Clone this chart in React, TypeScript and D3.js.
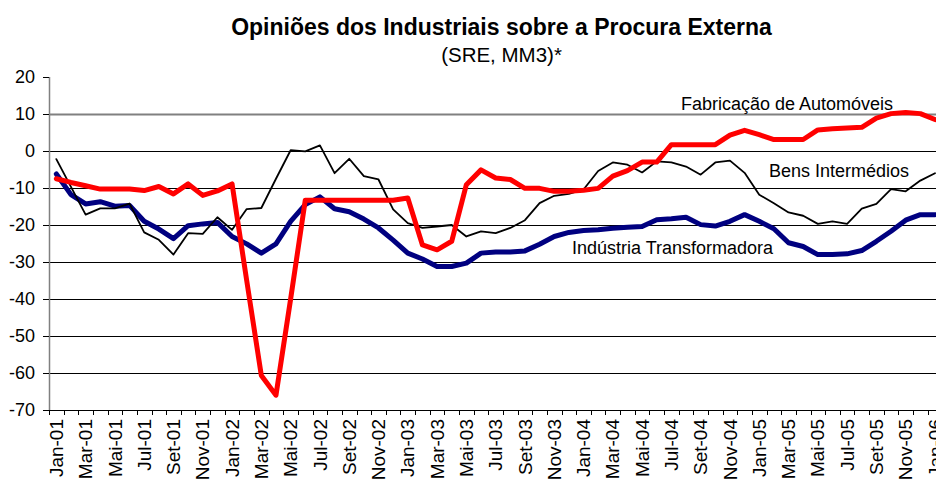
import React from "react";
import * as d3 from "d3";

const MONTHS = ["Jan", "Fev", "Mar", "Abr", "Mai", "Jun", "Jul", "Ago", "Set", "Out", "Nov", "Dez"];
const YEARS = ["01", "02", "03", "04", "05", "06"];
const CATEGORIES: string[] = [];
YEARS.forEach((y, yi) => {
  MONTHS.forEach((m, mi) => {
    if (yi < 5 || mi === 0) CATEGORIES.push(`${m}-${y}`);
  });
});

const INDUSTRIA = [
  -6.2, -11.8, -14.3, -13.7, -14.9, -14.7, -19, -21.1, -23.7, -20.2, -19.7, -19.3,
  -23.1, -25.1, -27.6, -25.1, -19, -14.5, -12.4, -15.6, -16.4, -18.4, -20.8, -24.1,
  -27.6, -29.2, -31.2, -31.2, -30.3, -27.6, -27.3, -27.3, -27, -25.2, -23.1, -22,
  -21.5, -21.3, -20.9, -20.6, -20.4, -18.6, -18.3, -17.9, -19.9, -20.3, -19, -17.2,
  -19, -21, -24.8, -25.8, -28, -28, -27.8, -26.9, -24.4, -21.7, -18.7, -17.2,
  -17.2,
];

const BENS = [
  -2.2, -9.7, -17.2, -15.5, -15.5, -14.2, -22, -24, -28, -22.2, -22.4, -17.9,
  -21.3, -15.7, -15.4, -7.5, 0.2, -0.1, 1.5, -6, -2.1, -6.8, -7.7, -15.8,
  -19.5, -20.8, -20.4, -20, -23.1, -21.7, -22.2, -20.8, -18.7, -14.1, -12.1, -11.6,
  -10.4, -5.4, -3.1, -3.7, -5.8, -2.8, -3.1, -4.2, -6.4, -3.1, -2.6, -5.9,
  -11.8, -14.1, -16.6, -17.5, -19.7, -19, -19.7, -15.6, -14.3, -10.3, -10.9, -8,
  -6,
];

const AUTOMOVEIS = [
  -7.5, -8.5, -9.4, -10.3, -10.3, -10.3, -10.7, -9.6, -11.6, -8.9, -12, -10.8,
  -8.9, -35, -60.7, -66, -40, -13.3, -13.3, -13.3, -13.3, -13.3, -13.3, -13.3,
  -12.7, -25.4, -26.7, -24.4, -9.1, -5.1, -7.3, -7.7, -10.1, -10.1, -10.9, -10.9,
  -10.6, -10.1, -6.8, -5.3, -3, -3, 1.7, 1.7, 1.7, 1.7, 4.3, 5.6,
  4.4, 3.1, 3.1, 3.1, 5.7, 6, 6.2, 6.4, 8.9, 10.1, 10.4, 10.1,
  8.5,
];

const Y_TICKS = [20, 10, 0, -10, -20, -30, -40, -50, -60, -70];

const TITLE = "Opiniões dos Industriais sobre a Procura Externa";
const SUBTITLE = "(SRE, MM3)*";
const SERIES_LABELS = ["Indústria Transformadora", "Bens Intermédios", "Fabricação de Automóveis"];

const FONT = "'Liberation Sans', Arial, sans-serif";

export default function App() {
  const W = 936;
  const H = 480;
  const left = 49;
  const right = 942.3;
  const top = 77;
  const bottom = 410;

  const x = d3.scaleBand<string>().domain(CATEGORIES).range([left, right]).paddingInner(0).paddingOuter(0);
  const y = d3.scaleLinear().domain([-70, 20]).range([bottom, top]);
  const cx = (c: string) => (x(c) as number) + x.bandwidth() / 2;

  const line = d3
    .line<number>()
    .x((_, i) => cx(CATEGORIES[i]))
    .y((d) => y(d));

  const series = [
    { data: INDUSTRIA, color: "#000080", width: 5 },
    { data: BENS, color: "#000000", width: 1.8 },
    { data: AUTOMOVEIS, color: "#FF0000", width: 5 },
  ];

  const tickEdges = CATEGORIES.map((c) => x(c) as number);

  return (
    <svg
      width={W}
      height={H}
      style={{ position: "absolute", left: 0, top: 0, background: "#fff" }}
      fontFamily={FONT}
    >
      <rect x={0} y={0} width={W} height={H} fill="#fff" />
      <text x={501.5} y={35} textAnchor="middle" fontWeight="bold" fontSize={23}>
        {TITLE}
      </text>
      <text x={501.5} y={62} textAnchor="middle" fontSize={20.5}>
        {SUBTITLE}
      </text>

      {/* gridlines */}
      {Y_TICKS.filter((t) => t < 20 && t > -70).map((t) => (
        <line
          key={`g${t}`}
          x1={left}
          x2={W}
          y1={Math.round(y(t)) + 0.5}
          y2={Math.round(y(t)) + 0.5}
          stroke={t === 10 ? "#808080" : "#000"}
          strokeWidth={t === 10 ? 1.8 : 1}
        />
      ))}

      {/* y axis */}
      <line x1={left + 0.5} x2={left + 0.5} y1={top} y2={bottom} stroke="#808080" strokeWidth={1.5} />
      {Y_TICKS.map((t) => (
        <g key={`y${t}`}>
          <line x1={left - 6} x2={left} y1={Math.round(y(t)) + 0.5} y2={Math.round(y(t)) + 0.5} stroke="#000" />
          <text x={35} y={y(t)} dy="0.35em" textAnchor="end" fontSize={18}>
            {t}
          </text>
        </g>
      ))}

      {/* x axis */}
      <line x1={left} x2={W} y1={Math.round(bottom) + 0.5} y2={Math.round(bottom) + 0.5} stroke="#000" />
      {tickEdges.map((e, i) => (
        <line key={`xt${i}`} x1={Math.round(e) + 0.5} x2={Math.round(e) + 0.5} y1={bottom} y2={bottom + 5} stroke="#000" />
      ))}
      {CATEGORIES.map((c, i) =>
        i % 2 === 0 ? (
          <text
            key={`xl${c}`}
            transform={`translate(${cx(c)},${bottom + 9}) rotate(-90)`}
            textAnchor="end"
            dy="0.35em"
            fontSize={19}
          >
            {c}
          </text>
        ) : null
      )}

      {/* series */}
      {series.map((s, k) => (
        <path
          key={`s${k}`}
          d={line(s.data) as string}
          fill="none"
          stroke={s.color}
          strokeWidth={s.width}
          strokeLinejoin="round"
          strokeLinecap="round"
        />
      ))}

      {/* series labels */}
      <text x={572} y={254} fontSize={18}>
        {SERIES_LABELS[0]}
      </text>
      <text x={769} y={176.5} fontSize={18}>
        {SERIES_LABELS[1]}
      </text>
      <text x={681} y={110} fontSize={18}>
        {SERIES_LABELS[2]}
      </text>
    </svg>
  );
}
